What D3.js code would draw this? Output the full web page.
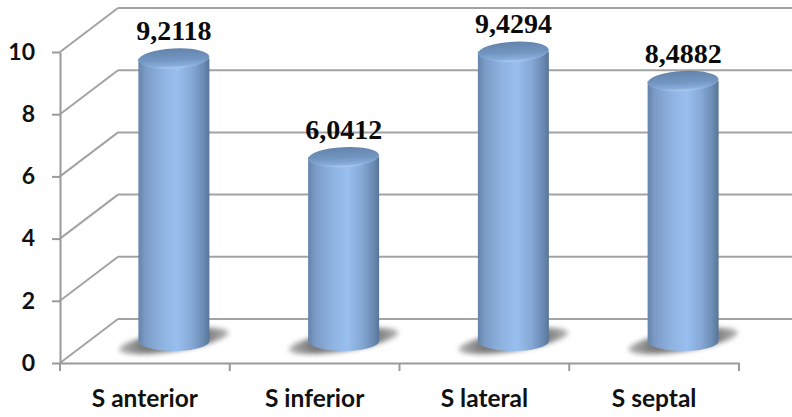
<!DOCTYPE html>
<html>
<head>
<meta charset="utf-8">
<script src="https://cdn.jsdelivr.net/npm/d3@7/dist/d3.min.js"></script>
<style>
html,body{margin:0;padding:0;background:#fff;overflow:hidden}
svg{display:block}
</style>
</head>
<body>
<svg id="chart" width="792" height="417"></svg>
<script>
const categories = ["S anterior", "S inferior", "S lateral", "S septal"];
const values = [9.2118, 6.0412, 9.4294, 8.4882];
const valueLabels = ["9,2118", "6,0412", "9,4294", "8,4882"];
const yTicks = [0, 2, 4, 6, 8, 10];

const gridColor = "#a3a3a3";
const axisColor = "#9a9a9a";
const depthX = 58, depthY = -44;      // offset from the front plane to the back wall
const rightEdge = 792;
const barWidth = 71, capRy = 10;
const baseY = 341;                    // centre of each cylinder's base ellipse
const topShift = -18;                 // cap centre relative to the front-plane value

const svg = d3.select("#chart");
const x = d3.scaleBand().domain(categories).range([60, 739]).paddingInner(0).paddingOuter(0);
const y = d3.scaleLinear().domain([0, 10]).range([363, 52]);
const cx = c => x(c) + x.bandwidth() / 2 + depthX / 2;

const defs = svg.append("defs");

const side = defs.append("linearGradient").attr("id", "barSide");
[[0, "#6583aa"], [0.1, "#7b9bc6"], [0.35, "#8fb4e2"], [0.55, "#98bfef"], [0.75, "#86a9d6"], [0.92, "#6a8ab2"], [1, "#587596"]]
  .forEach(([o, c]) => side.append("stop").attr("offset", o).attr("stop-color", c));

const cap = defs.append("linearGradient").attr("id", "barCap").attr("x1", 0).attr("x2", 0).attr("y1", 0).attr("y2", 1);
[[0, "#6383aa"], [0.55, "#7296c2"], [0.85, "#88acd9"], [1, "#acccf2"]]
  .forEach(([o, c]) => cap.append("stop").attr("offset", o).attr("stop-color", c));

const shade = defs.append("linearGradient").attr("id", "floorShade");
[[0, "#b5b5b5"], [0.2, "#7c7c7c"], [0.8, "#7c7c7c"], [1, "#b5b5b5"]]
  .forEach(([o, c]) => shade.append("stop").attr("offset", o).attr("stop-color", c));

defs.append("filter").attr("id", "soft").attr("x", "-30%").attr("y", "-80%").attr("width", "160%").attr("height", "260%")
  .append("feGaussianBlur").attr("stdDeviation", 2.4);

// Back wall gridlines and the diagonals that run across the side wall
const grid = svg.append("g").attr("fill", "none").attr("stroke", gridColor).attr("stroke-width", 2);
grid.selectAll("line.wall").data(yTicks).join("line").attr("class", "wall")
  .attr("x1", 60 + depthX).attr("x2", rightEdge)
  .attr("y1", d => y(d) + depthY).attr("y2", d => y(d) + depthY);
grid.selectAll("line.side").data(yTicks).join("line").attr("class", "side")
  .attr("x1", 60).attr("x2", 60 + depthX)
  .attr("y1", d => y(d)).attr("y2", d => y(d) + depthY);

// Axes on the front plane
const fontTick = "Lato, 'Open Sans', sans-serif";
const yAxis = svg.append("g").attr("transform", "translate(60,0)")
  .call(d3.axisLeft(y).tickValues(yTicks).tickSize(8).tickPadding(17).tickSizeOuter(0));
const xAxis = svg.append("g").attr("transform", "translate(0,363)")
  .call(d3.axisBottom(x).tickSize(0).tickPadding(27));
[yAxis, xAxis].forEach(a => {
  a.selectAll("path,line").attr("stroke", axisColor).attr("stroke-width", 2);
  a.selectAll("text").attr("fill", "#111").attr("font-family", fontTick).attr("font-weight", 700);
});
yAxis.selectAll("text").attr("font-size", 23);
xAxis.selectAll("text").attr("font-size", 24.5);

// Band boundaries on the category axis
svg.append("g").selectAll("line")
  .data([...categories.map(c => x(c)), x.range()[1]])
  .join("line")
  .attr("x1", d => d).attr("x2", d => d)
  .attr("y1", 363).attr("y2", 371)
  .attr("stroke", axisColor).attr("stroke-width", 2);

// Cylinders with their floor shadows
const bars = svg.append("g").selectAll("g").data(categories).join("g")
  .attr("transform", c => `translate(${cx(c)},0)`);

bars.append("ellipse")
  .attr("cx", 0).attr("cy", baseY)
  .attr("rx", barWidth * 0.78).attr("ry", 10)
  .attr("transform", `rotate(-9 0 ${baseY})`)
  .attr("fill", "url(#floorShade)")
  .attr("filter", "url(#soft)");

bars.append("path")
  .attr("d", (c, i) => {
    const top = y(values[i]) + topShift, r = barWidth / 2;
    return `M${-r},${top}V${baseY}A${r},${capRy} 0 0 0 ${r},${baseY}V${top}Z`;
  })
  .attr("fill", "url(#barSide)");

bars.append("ellipse")
  .attr("cx", 0)
  .attr("cy", (c, i) => y(values[i]) + topShift)
  .attr("rx", barWidth / 2).attr("ry", capRy)
  .attr("transform", (c, i) => `rotate(-3 0 ${y(values[i]) + topShift})`)
  .attr("fill", "url(#barCap)");

// Value labels above each cylinder
bars.append("text")
  .attr("x", 0)
  .attr("y", (c, i) => y(values[i]) + topShift - 18.5)
  .attr("text-anchor", "middle")
  .attr("font-family", "'Liberation Serif', serif")
  .attr("font-weight", 700).attr("font-size", 28)
  .attr("fill", "#0a0a0a")
  .text((c, i) => valueLabels[i]);
</script>
</body>
</html>
